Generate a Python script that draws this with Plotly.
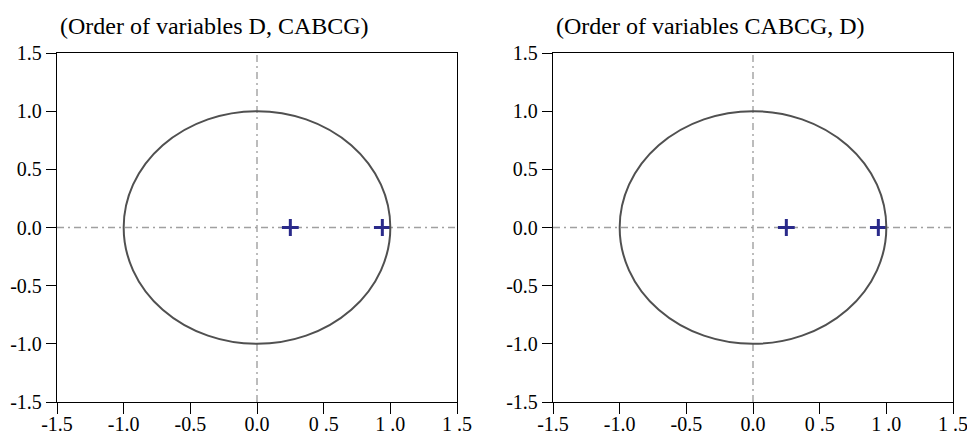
import plotly.graph_objects as go

titles = ["(Order of variables D, CABCG)", "(Order of variables CABCG, D)"]
point_x = [0.25, 0.94]
point_y = [0.0, 0.0]
tick_vals = [-1.5, -1.0, -0.5, 0.0, 0.5, 1.0, 1.5]
x_tick_text = ["-1.5", "-1.0", "-0.5", "0.0", "0 .5", "1 .0", "1 .5"]
y_tick_text = ["-1.5", "-1.0", "-0.5", "0.0", "0.5", "1.0", "1.5"]
circle_radius = 1.0

W, H = 967, 433
xdoms = [[57 / W, 457 / W], [553 / W, 953 / W]]
ydom = [1 - 402 / H, 1 - 53 / H]

fig = go.Figure()
font = dict(family="Liberation Serif", size=20, color="black")

for i in range(2):
    sfx = "" if i == 0 else "2"
    tsfx = str(i + 3)
    fig.add_trace(go.Scatter(
        x=point_x, y=point_y, mode="markers",
        marker=dict(symbol="cross-thin", size=12, line=dict(width=3, color="#2a2a8a")),
        xaxis="x" + sfx, yaxis="y" + sfx, showlegend=False, hoverinfo="skip"))
    # invisible trace so the tick-mark companion axis is surely drawn
    fig.add_trace(go.Scatter(
        x=[point_x[0]], y=[point_y[0]], mode="markers", marker=dict(opacity=0),
        xaxis="x" + tsfx, yaxis="y" + sfx, showlegend=False, hoverinfo="skip"))
    axcommon = dict(range=[-1.5, 1.5], tickvals=tick_vals, ticks="outside", ticklen=10,
                    tickwidth=1.3, tickcolor="black", showline=True, linecolor="black",
                    linewidth=1.3, mirror=True, showgrid=False, zeroline=False,
                    tickfont=font, fixedrange=True, automargin=False,
                    ticklabeloverflow="allow")
    xax = dict(axcommon)
    xax.update(ticklen=4, tickcolor="rgba(0,0,0,0)")
    fig.update_layout(**{
        "xaxis" + sfx: dict(domain=xdoms[i], anchor="y" + sfx, ticktext=x_tick_text, **xax),
        "yaxis" + sfx: dict(domain=ydom, anchor="x" + sfx, ticktext=y_tick_text, **axcommon),
        # tick-mark-only companion axis so labels can sit close to the axis
        "xaxis" + tsfx: dict(overlaying="x" + sfx, anchor="y" + sfx, range=[-1.5, 1.5],
                             tickvals=tick_vals, ticks="outside", ticklen=11, tickwidth=1.3,
                             tickcolor="black", showticklabels=False, showline=False,
                             showgrid=False, zeroline=False, fixedrange=True, automargin=False),
    })
    xr, yr = "x" + sfx, "y" + sfx
    dd = "7px,4px,2px,4px"
    fig.add_shape(type="line", xref=xr, yref=yr, x0=0, x1=0, y0=-1.5, y1=1.5,
                  line=dict(color="#a0a0a0", width=1.4, dash=dd), layer="below")
    fig.add_shape(type="line", xref=xr, yref=yr, x0=-1.5, x1=1.5, y0=0, y1=0,
                  line=dict(color="#a0a0a0", width=1.4, dash=dd), layer="below")
    fig.add_shape(type="circle", xref=xr, yref=yr, x0=-circle_radius, x1=circle_radius,
                  y0=-circle_radius, y1=circle_radius,
                  line=dict(color="#505050", width=2))
    fig.add_annotation(text=titles[i], xref="paper", yref="paper",
                       x=xdoms[i][0] + 1 / W, y=1 - 26 / H, xanchor="left", yanchor="middle",
                       showarrow=False, font=dict(family="Liberation Serif", size=24, color="black"))

fig.update_layout(width=W, height=H, margin=dict(l=0, r=0, t=0, b=0),
                  plot_bgcolor="white", paper_bgcolor="white")
fig.write_html("out.html")
